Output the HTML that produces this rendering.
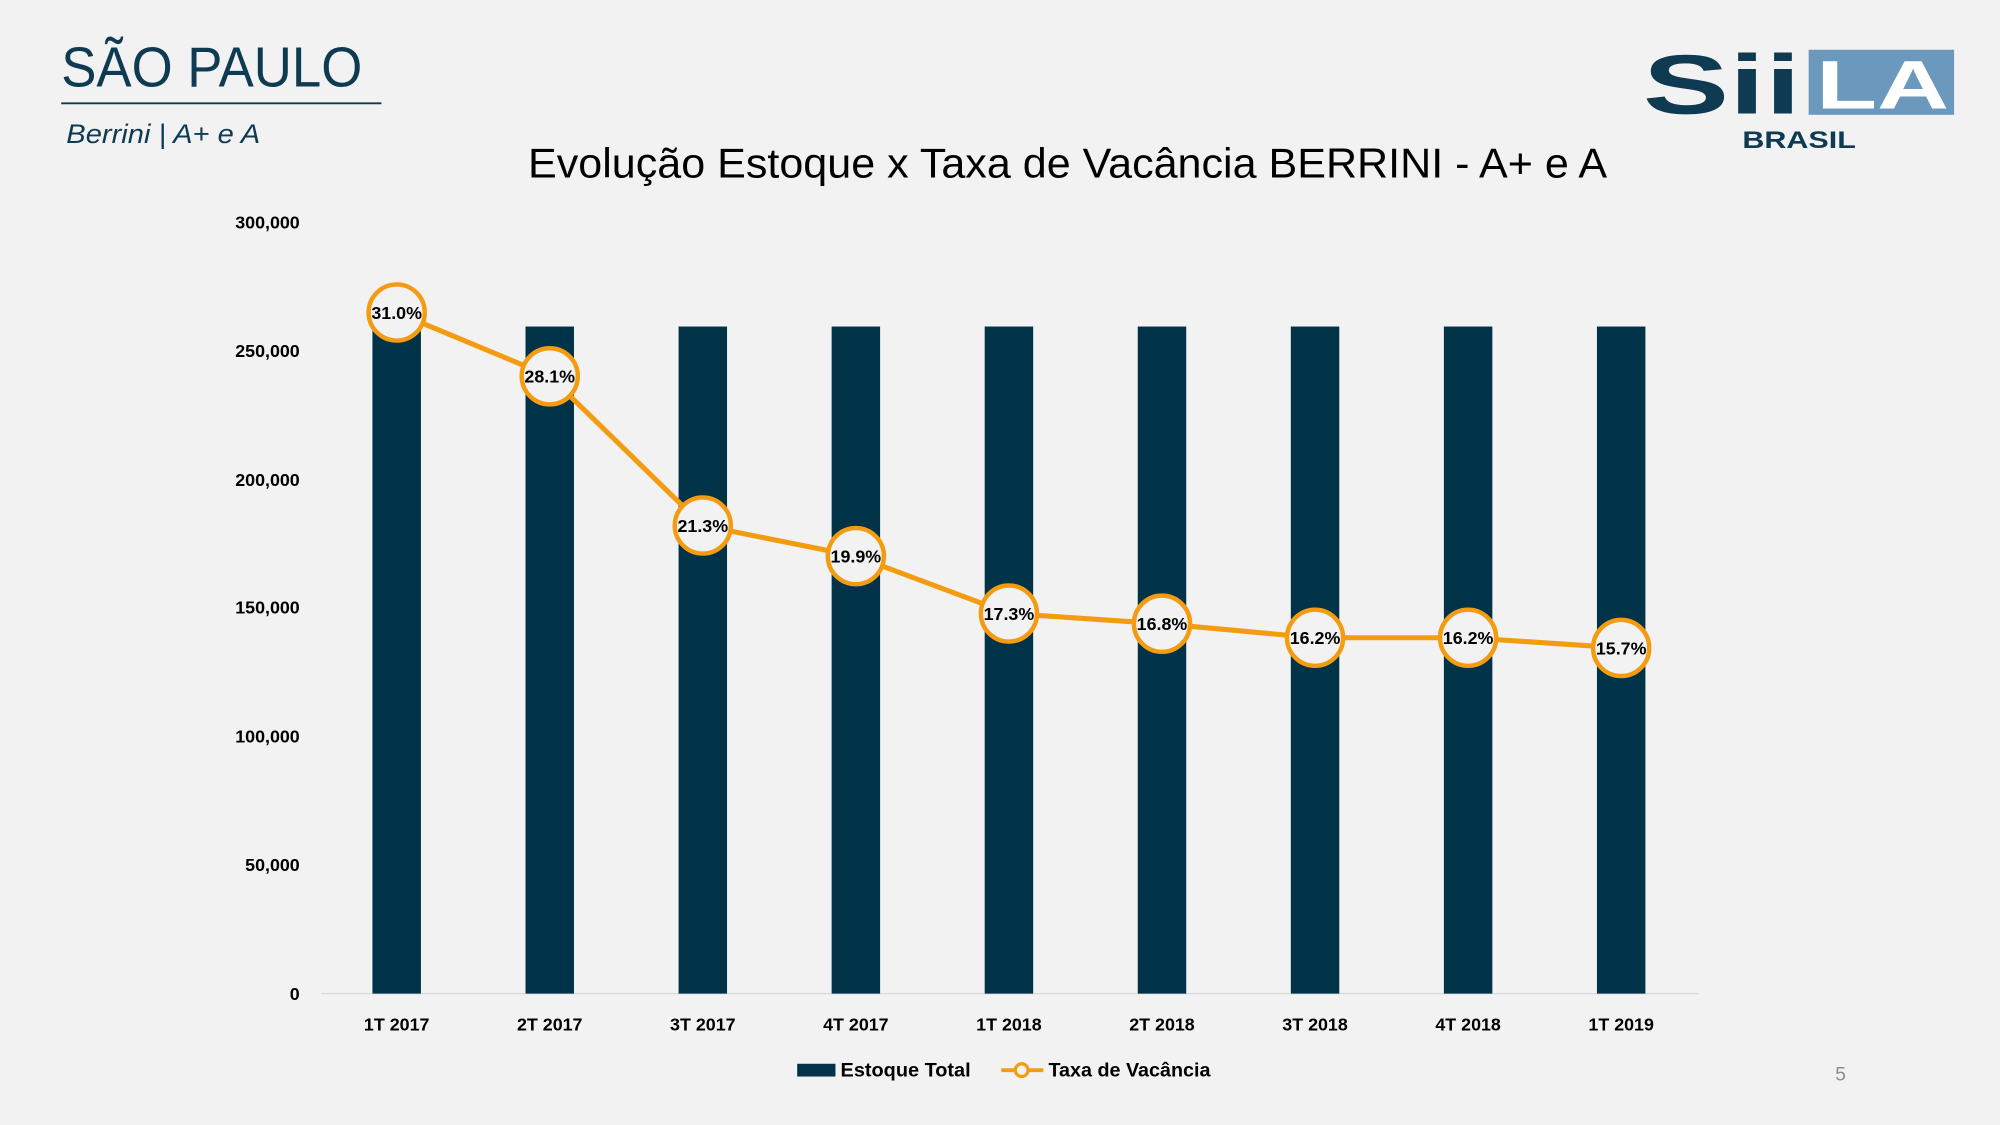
<!DOCTYPE html>
<html><head><meta charset="utf-8"><style>
html,body{margin:0;padding:0;background:#f2f2f2;}
svg{display:block;}
text{font-family:"Liberation Sans",sans-serif;}
</style></head><body>
<svg width="2000" height="1125" viewBox="0 0 1568 882" preserveAspectRatio="none" xmlns="http://www.w3.org/2000/svg">
<rect width="1568" height="882" fill="#f2f2f2"/>
<text x="48" y="68" font-size="44" fill="#0e3a52" textLength="236" lengthAdjust="spacingAndGlyphs">SÃO PAULO</text>
<line x1="48" y1="81" x2="299" y2="81" stroke="#0e3a52" stroke-width="1.5"/>
<text x="52" y="112" font-size="21" font-style="italic" fill="#0e3a52" textLength="152" lengthAdjust="spacingAndGlyphs">Berrini | A+ e A</text>
<text x="414" y="139" font-size="33" fill="#000" textLength="846" lengthAdjust="spacingAndGlyphs">Evolução Estoque x Taxa de Vacância BERRINI - A+ e A</text>
<!-- logo -->
<text x="1288" y="89" font-size="66" font-weight="bold" fill="#0e3a52" textLength="124" lengthAdjust="spacingAndGlyphs">Sii</text>
<rect x="1418" y="39" width="114" height="51" fill="#6b98bd"/>
<text x="1424" y="85" font-size="54" font-weight="bold" fill="#fff" textLength="104" lengthAdjust="spacingAndGlyphs">LA</text>
<text x="1366" y="116" font-size="19" font-weight="bold" fill="#0e3a52" textLength="89" lengthAdjust="spacingAndGlyphs">BRASIL</text>
<!-- y axis labels -->
<g font-size="14" font-weight="bold" fill="#000" text-anchor="end">
<text x="235" y="179">300,000</text>
<text x="235" y="280">250,000</text>
<text x="235" y="381">200,000</text>
<text x="235" y="481">150,000</text>
<text x="235" y="582">100,000</text>
<text x="235" y="683">50,000</text>
<text x="235" y="784">0</text>
</g>
<line x1="252" y1="779" x2="1332" y2="779" stroke="#d9d9d9" stroke-width="1"/>
<g fill="#003347">
<rect x="292" y="256" width="38" height="523"/>
<rect x="412" y="256" width="38" height="523"/>
<rect x="532" y="256" width="38" height="523"/>
<rect x="652" y="256" width="38" height="523"/>
<rect x="772" y="256" width="38" height="523"/>
<rect x="892" y="256" width="38" height="523"/>
<rect x="1012" y="256" width="38" height="523"/>
<rect x="1132" y="256" width="38" height="523"/>
<rect x="1252" y="256" width="38" height="523"/>
</g>
<polyline points="311,245 431,295 551,412 671,436 791,481 911,489 1031,500 1151,500 1271,508" fill="none" stroke="#f39c12" stroke-width="4"/>
<g fill="#f2f2f2" stroke="#f39c12" stroke-width="3.5">
<circle cx="311" cy="245" r="22"/><circle cx="431" cy="295" r="22"/><circle cx="551" cy="412" r="22"/>
<circle cx="671" cy="436" r="22"/><circle cx="791" cy="481" r="22"/><circle cx="911" cy="489" r="22"/>
<circle cx="1031" cy="500" r="22"/><circle cx="1151" cy="500" r="22"/><circle cx="1271" cy="508" r="22"/>
</g>
<g font-size="14" font-weight="bold" fill="#000" text-anchor="middle">
<text x="311" y="250">31.0%</text><text x="431" y="300">28.1%</text><text x="551" y="417">21.3%</text>
<text x="671" y="441">19.9%</text><text x="791" y="486">17.3%</text><text x="911" y="494">16.8%</text>
<text x="1031" y="505">16.2%</text><text x="1151" y="505">16.2%</text><text x="1271" y="513">15.7%</text>
</g>
<g font-size="14" font-weight="bold" fill="#000" text-anchor="middle">
<text x="311" y="808">1T 2017</text><text x="431" y="808">2T 2017</text><text x="551" y="808">3T 2017</text>
<text x="671" y="808">4T 2017</text><text x="791" y="808">1T 2018</text><text x="911" y="808">2T 2018</text>
<text x="1031" y="808">3T 2018</text><text x="1151" y="808">4T 2018</text><text x="1271" y="808">1T 2019</text>
</g>
<rect x="625" y="834" width="30" height="10" fill="#003347"/>
<text x="659" y="844" font-size="15" font-weight="bold" fill="#000" textLength="102" lengthAdjust="spacingAndGlyphs">Estoque Total</text>
<line x1="785" y1="839" x2="818" y2="839" stroke="#f39c12" stroke-width="3"/>
<circle cx="801" cy="839" r="5" fill="#f2f2f2" stroke="#f39c12" stroke-width="2.5"/>
<text x="822" y="844" font-size="15" font-weight="bold" fill="#000" textLength="127" lengthAdjust="spacingAndGlyphs">Taxa de Vacância</text>
<text x="1443" y="847" font-size="15" fill="#8c8c8c" text-anchor="middle">5</text>
</svg>
</body></html>
